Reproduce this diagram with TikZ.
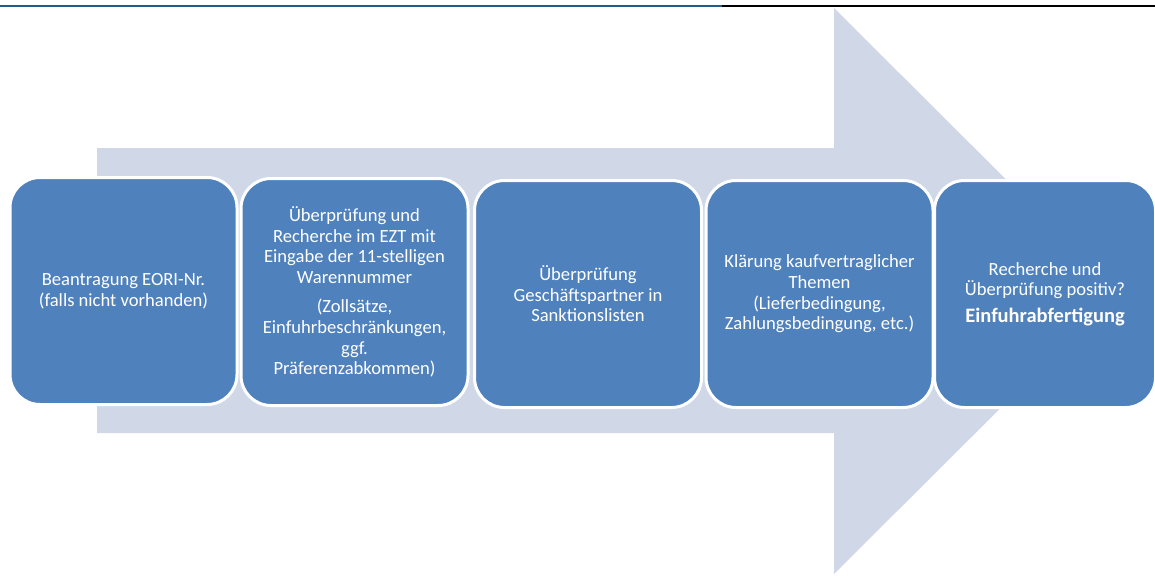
\documentclass[tikz,border=0pt]{standalone}
\usepackage{fontspec}
\setmainfont{Carlito}
\usepackage{xcolor}
\usepackage{tikz}
\definecolor{bg}{HTML}{FFFFFF}
\definecolor{stepblue}{HTML}{4F81BD}
\definecolor{arrowbg}{HTML}{D0D8E8}
\definecolor{rulebl}{HTML}{1F5C8C}
\definecolor{text}{HTML}{FFFFFF}
\tikzset{
  rule/.style={line width=2pt},
  stepbox/.style={
    draw=bg,
    line width=3pt,
    fill=stepblue,
    rounded corners=30pt,
    minimum width=227pt,
    minimum height=227pt,
    inner sep=0pt,
    text=text,
    align=center,
    font=\fontsize{18.6}{20.6}\selectfont
  }
}

\begin{document}
\begin{tikzpicture}[x=1pt, y=-1pt]
  \useasboundingbox (0,0) rectangle (1155,575);
  \draw[rule, rulebl] (0,6) -- (722,6);
  \draw[rule, black] (722,6) -- (1155,6);

  % big arrow behind the steps
  \fill[arrowbg] (97,148) -- (834,148) -- (834,8) -- (1118,291)
    -- (834,574) -- (834,433) -- (97,433) -- cycle;

  \node[stepbox] (eori) at (123.5,291) {Beantragung EORI-Nr.\\(falls nicht vorhanden)};
  \node[stepbox] (ezt) at (354.5,292) {Überprüfung und\\Recherche im EZT mit\\Eingabe der 11-stelligen\\Warennummer\\[9pt]
    (Zollsätze,\\Einfuhrbeschränkungen,\\ggf.\\Präferenzabkommen)};
  \node[stepbox] (sank) at (588,294) {Überprüfung\\Geschäftspartner in\\Sanktionslisten};
  \node[stepbox] (kauf) at (819.5,294) {Klärung kaufvertraglicher\\Themen\\(Lieferbedingung,\\Zahlungsbedingung, etc.)};
  \node[stepbox, minimum width=221pt] (einf) at (1045,294) {Recherche und\\Überprüfung positiv?\\[6pt]
    {\fontsize{20.5}{23}\selectfont\bfseries Einfuhrabfertigung}};
\end{tikzpicture}
\end{document}
